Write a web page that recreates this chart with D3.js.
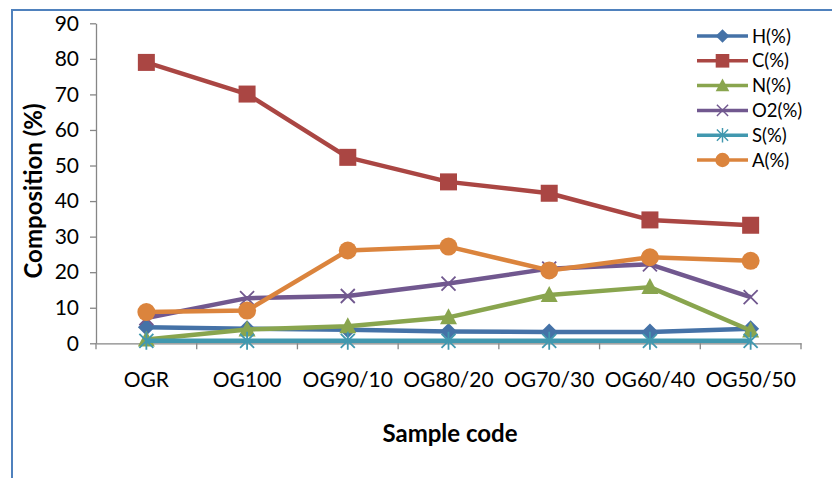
<!DOCTYPE html>
<html>
<head>
<meta charset="utf-8">
<script src="https://cdn.jsdelivr.net/npm/d3@7"></script>
<style>
  html, body { margin: 0; padding: 0; background: #fff; }
  svg { display: block; }
  text { font-family: Lato, "Liberation Sans", Arial, sans-serif; fill: #000; }
</style>
</head>
<body>
<svg id="chart" width="832" height="478"></svg>
<script>
// Sample codes along the x axis
const categories = ["OGR", "OG100", "OG90/10", "OG80/20", "OG70/30", "OG60/40", "OG50/50"];

// Composition (%) per element
const hValues  = [4.5, 4.1, 3.8, 3.3, 3.2, 3.2, 4.1];
const cValues  = [79.0, 70.1, 52.3, 45.4, 42.2, 34.7, 33.2];
const nValues  = [1.1, 3.9, 4.8, 7.3, 13.6, 15.8, 3.6];
const o2Values = [7.1, 12.7, 13.3, 16.8, 21.0, 22.2, 13.0];
const sValues  = [0.7, 0.7, 0.7, 0.7, 0.7, 0.7, 0.7];
const aValues  = [8.8, 9.2, 26.1, 27.2, 20.5, 24.2, 23.2];

const seriesNames = ["H(%)", "C(%)", "N(%)", "O2(%)", "S(%)", "A(%)"];
const yTicks = [0, 10, 20, 30, 40, 50, 60, 70, 80, 90];

const series = [
  { name: seriesNames[0], values: hValues,  color: "#4572A7", marker: "diamond" },
  { name: seriesNames[1], values: cValues,  color: "#AA4643", marker: "square" },
  { name: seriesNames[2], values: nValues,  color: "#89A54E", marker: "triangle" },
  { name: seriesNames[3], values: o2Values, color: "#71588F", marker: "x" },
  { name: seriesNames[4], values: sValues,  color: "#4198AF", marker: "star" },
  { name: seriesNames[5], values: aValues,  color: "#DB843D", marker: "circle" }
];

const svg = d3.select("#chart");

// outer chart frame
svg.append("rect")
  .attr("x", 12).attr("y", 10)
  .attr("width", 840).attr("height", 500)
  .attr("fill", "none")
  .attr("stroke", "#4F81BD")
  .attr("stroke-width", 2);

const plot = { left: 96, right: 801, top: 23.3, bottom: 343.3 };

const x = d3.scaleBand().domain(categories).range([plot.left, plot.right]).padding(0);
const y = d3.scaleLinear().domain([0, 90]).range([plot.bottom, plot.top]);
const cx = d => x(d) + x.bandwidth() / 2;

const axisColor = "#868686";

// y axis
const yAxis = svg.append("g")
  .attr("transform", `translate(${plot.left},0)`)
  .call(d3.axisLeft(y).tickValues(yTicks).tickSize(6).tickPadding(11).tickSizeOuter(0));
yAxis.select(".domain").attr("stroke", axisColor).attr("stroke-width", 1.3);
yAxis.selectAll(".tick line").attr("stroke", axisColor).attr("stroke-width", 1.3);
yAxis.selectAll(".tick text")
  .attr("font-size", 21)
  .style("font-family", "Lato, sans-serif")
  .attr("fill", "#000");

// x axis: labels centred on categories, tick marks on the category boundaries
const xAxis = svg.append("g")
  .attr("transform", `translate(0,${plot.bottom})`)
  .call(d3.axisBottom(x).tickSize(0).tickPadding(29));
xAxis.select(".domain").attr("stroke", axisColor).attr("stroke-width", 1.3);
xAxis.selectAll(".tick text")
  .attr("font-size", 21)
  .style("font-family", "Lato, sans-serif")
  .attr("fill", "#000");

const boundaries = categories.map(c => x(c)).concat([plot.right]);
xAxis.selectAll("line.boundary")
  .data(boundaries)
  .join("line")
  .attr("class", "boundary")
  .attr("x1", d => d).attr("x2", d => d)
  .attr("y1", 0).attr("y2", 6)
  .attr("stroke", axisColor).attr("stroke-width", 1.3);

// axis titles
svg.append("text")
  .attr("transform", `translate(42,191) rotate(-90)`)
  .attr("text-anchor", "middle")
  .attr("font-size", 24)
  .attr("font-weight", "bold")
  .style("font-family", "Lato, sans-serif")
  .text("Composition (%)");

svg.append("text")
  .attr("x", 450).attr("y", 442)
  .attr("text-anchor", "middle")
  .attr("font-size", 24)
  .attr("font-weight", "bold")
  .style("font-family", "Lato, sans-serif")
  .text("Sample code");

// marker drawing
function drawMarker(g, type, color) {
  switch (type) {
    case "diamond":
      g.append("path").attr("d", "M0,-8.5L8.5,0L0,8.5L-8.5,0Z").attr("fill", color);
      break;
    case "square":
      g.append("rect").attr("x", -8.5).attr("y", -8.5).attr("width", 17).attr("height", 17).attr("fill", color);
      break;
    case "triangle":
      g.append("path").attr("d", "M0,-9L8.5,7L-8.5,7Z").attr("fill", color);
      break;
    case "circle":
      g.append("circle").attr("r", 9).attr("fill", color);
      break;
    case "x":
      g.append("path").attr("d", "M-7,-7L7,7M-7,7L7,-7")
        .attr("stroke", color).attr("stroke-width", 1.8).attr("fill", "none");
      break;
    case "star":
      g.append("path").attr("d", "M-7,-7L7,7M-7,7L7,-7M0,-9L0,9")
        .attr("stroke", color).attr("stroke-width", 1.8).attr("fill", "none");
      break;
  }
}

const line = d3.line()
  .x((d, i) => cx(categories[i]))
  .y(d => y(d));

series.forEach(s => {
  const g = svg.append("g").attr("class", "series");
  g.append("path")
    .attr("d", line(s.values))
    .attr("fill", "none")
    .attr("stroke", s.color)
    .attr("stroke-width", 4.5)
    .attr("stroke-linejoin", "round");
  s.values.forEach((v, i) => {
    const m = g.append("g").attr("transform", `translate(${cx(categories[i])},${y(v)})`);
    drawMarker(m, s.marker, s.color);
  });
});

// legend
const legend = svg.append("g");
series.forEach((s, i) => {
  const ly = 36 + i * 24.8;
  const row = legend.append("g");
  row.append("line")
    .attr("x1", 697).attr("x2", 748)
    .attr("y1", ly).attr("y2", ly)
    .attr("stroke", s.color).attr("stroke-width", 3.5);
  const m = row.append("g").attr("transform", `translate(722.5,${ly}) scale(0.8)`);
  drawMarker(m, s.marker, s.color);
  row.append("text")
    .attr("x", 752).attr("y", ly)
    .attr("dy", "0.36em")
    .attr("font-size", 18.5)
    .style("font-family", "Lato, sans-serif")
    .text(s.name);
});
</script>
</body>
</html>
